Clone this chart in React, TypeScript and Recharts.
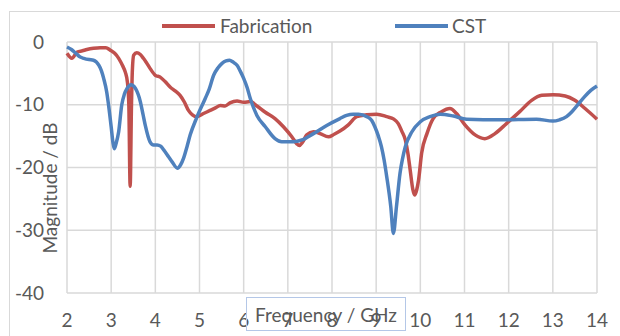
import { CartesianGrid, Line, LineChart, XAxis, YAxis } from "recharts";

const FAB_FREQ = [
  2.0, 2.11, 2.23, 2.35, 2.45, 2.6, 2.75, 2.88, 2.98, 3.08, 3.17, 3.26, 3.32, 3.37, 3.4, 3.43, 3.46, 3.48,
  3.51, 3.58, 3.66, 3.73, 3.8, 3.88, 4.0, 4.11, 4.22, 4.34, 4.45, 4.56, 4.66, 4.75, 4.84, 4.94, 5.09, 5.24,
  5.36, 5.47, 5.58, 5.69, 5.85, 6.0, 6.15, 6.3, 6.49, 6.71, 6.9, 7.09, 7.2, 7.26, 7.33, 7.43, 7.58, 7.73,
  7.92, 8.05, 8.18, 8.37, 8.56, 8.79, 9.01, 9.24, 9.4, 9.5, 9.58, 9.66, 9.72, 9.77, 9.83, 9.87, 9.92, 9.96,
  10.03, 10.15, 10.29, 10.48, 10.67, 10.82, 11.01, 11.24, 11.46, 11.69, 11.95, 12.25, 12.52, 12.75, 13.01,
  13.28, 13.5, 13.73, 14.0,
];
const FAB_MAG = [
  -1.8, -2.6, -1.6, -1.4, -1.2, -1.0, -0.9, -0.9, -1.3, -1.8, -2.6, -3.8, -4.8, -6.5, -10, -23, -10, -4.5,
  -2.1, -1.7, -2.0, -2.6, -3.3, -4.2, -5.3, -5.6, -6.3, -7.2, -7.8, -8.5, -9.6, -10.9, -11.6, -11.9, -11.4, -10.9,
  -10.5, -10.1, -10.2, -9.7, -9.4, -9.6, -9.5, -10.2, -11.2, -12.2, -13.5, -15.1, -16.2, -16.5, -16.0, -14.8, -14.3, -14.6,
  -15.1, -14.7, -14.2, -13.2, -11.9, -11.6, -11.5, -11.9, -12.3, -13.0, -14.2, -15.6, -17.8, -20.4, -23.5, -24.4, -23.5, -22,
  -17.7, -14.6, -12.2, -11.1, -10.6, -11.4, -13.2, -14.8, -15.4, -14.6, -13.0, -11.1, -9.3, -8.5, -8.4,
  -8.6, -9.3, -10.6, -12.3,
];

// Simulated S11 (CST)
const CST_FREQ = [
  2.0, 2.1, 2.2, 2.3, 2.38, 2.5, 2.6, 2.72, 2.78, 2.83, 2.9, 2.94, 3.0, 3.04, 3.07, 3.11, 3.17, 3.24, 3.3,
  3.36, 3.45, 3.55, 3.66, 3.72, 3.77, 3.88, 3.96, 4.04, 4.12, 4.19, 4.3, 4.38, 4.5, 4.57, 4.64, 4.72, 4.79,
  4.94, 5.13, 5.22, 5.32, 5.42, 5.51, 5.6, 5.68, 5.76, 5.85, 5.92, 6.0, 6.08, 6.15, 6.3, 6.49, 6.71, 6.86,
  7.13, 7.32, 7.58, 7.88, 8.18, 8.33, 8.48, 8.6, 8.79, 8.9, 8.97, 9.05, 9.12, 9.18, 9.24, 9.33, 9.39, 9.46,
  9.54, 9.6, 9.66, 9.81, 10.0, 10.22, 10.45, 10.75, 11.05, 11.8, 12.63, 13.0, 13.15, 13.31, 13.42, 13.53,
  13.72, 13.86, 14.0,
];
const CST_MAG = [
  -0.8, -1.2, -1.8, -2.4, -2.6, -2.8, -2.9, -3.7, -4.6, -5.8, -8, -10, -13.5, -16, -17, -16.2, -14.3, -10, -8.3,
  -7.4, -6.8, -7.4, -9.5, -11.5, -13.2, -15.9, -16.4, -16.4, -16.6, -17.2, -18.3, -19.1, -20.1, -19.6, -18.5, -16.6, -14.8,
  -12.0, -9.0, -7.5, -5.3, -4.1, -3.4, -3.0, -2.9, -3.2, -3.7, -4.6, -5.8, -7.3, -9.0, -11.7, -13.5, -15.4, -15.9,
  -15.9, -15.6, -14.6, -13.3, -12.2, -11.7, -11.5, -11.5, -11.9, -12.5, -13.5, -15.0, -16.7, -18.8, -21.5, -26.2, -30.5, -26.2,
  -20.9, -18.5, -16.7, -14.3, -12.7, -11.9, -11.5, -11.8, -12.3, -12.4, -12.3, -12.6, -12.4, -11.9, -11.2, -10.3,
  -8.7, -7.7, -7.0,
];

const X_TICKS = [2, 3, 4, 5, 6, 7, 8, 9, 10, 11, 12, 13, 14];
const Y_TICKS = [-40, -30, -20, -10, 0];
// minor tick marks along the top axis, six per GHz
const MINOR_TICKS = X_TICKS.slice(0, -1)
  .flatMap((v) => [0, 1, 2, 3, 4, 5].map((k) => v + k / 6))
  .concat([14]);

const fabData = FAB_FREQ.map((f, i) => ({ f, v: FAB_MAG[i] }));
const cstData = CST_FREQ.map((f, i) => ({ f, v: CST_MAG[i] }));

const RED = "#C0504D";
const BLUE = "#4F81BD";
const TEXT = "#595959";
const FONT = "Lato, 'Open Sans', sans-serif";

export default function App() {
  return (
    <div
      style={{
        position: "absolute",
        left: 0,
        top: 0,
        width: 620,
        height: 336,
        overflow: "hidden",
        background: "#fff",
        fontFamily: FONT,
      }}
    >
      {/* chart area border */}
      <div
        style={{
          position: "absolute",
          left: 9,
          top: 11,
          width: 640,
          height: 360,
          border: "1px solid #d9d9d9",
        }}
      />

      <LineChart width={620} height={336} margin={{ top: 42, right: 23, left: 0, bottom: 0 }}>
        <CartesianGrid xAxisId="main" stroke="#d9d9d9" strokeWidth={1.5} />
        <XAxis
          xAxisId="main"
          type="number"
          dataKey="f"
          domain={[2, 14]}
          ticks={X_TICKS}
          interval={0}
          height={43}
          axisLine={false}
          tickLine={false}
          tickSize={0}
          tickMargin={21}
          tick={{ fill: TEXT, fontSize: 19, fontFamily: FONT }}
        />
        <XAxis
          xAxisId="minor"
          orientation="top"
          type="number"
          dataKey="f"
          domain={[2, 14]}
          ticks={MINOR_TICKS}
          interval={0}
          height={0}
          mirror
          tick={false}
          tickSize={5}
          axisLine={{ stroke: "#bfbfbf", strokeWidth: 1.5 }}
          tickLine={{ stroke: "#bfbfbf" }}
        />
        <YAxis
          type="number"
          domain={[-40, 0]}
          ticks={Y_TICKS}
          interval={0}
          width={67}
          axisLine={false}
          tickLine={false}
          tickSize={0}
          tickMargin={23}
          tick={{ fill: TEXT, fontSize: 19, fontFamily: FONT }}
        />
        <Line
          xAxisId="main"
          data={fabData}
          dataKey="v"
          name="Fabrication"
          type="monotone"
          stroke={RED}
          strokeWidth={3.5}
          dot={false}
          isAnimationActive={false}
        />
        <Line
          xAxisId="main"
          data={cstData}
          dataKey="v"
          name="CST"
          type="monotone"
          stroke={BLUE}
          strokeWidth={3.5}
          dot={false}
          isAnimationActive={false}
        />
      </LineChart>

      {/* legend */}
      <div style={{ position: "absolute", left: 162, top: 23.5, width: 53, height: 4, background: RED }} />
      <div style={{ position: "absolute", left: 220, top: 15.5, fontSize: 19, lineHeight: "19px", color: TEXT }}>
        Fabrication
      </div>
      <div style={{ position: "absolute", left: 395, top: 23.5, width: 53, height: 4, background: BLUE }} />
      <div style={{ position: "absolute", left: 452, top: 15.5, fontSize: 19, lineHeight: "19px", color: TEXT }}>
        CST
      </div>

      {/* axis titles */}
      <div
        style={{
          position: "absolute",
          left: 49,
          top: 188,
          transform: "translate(-50%, -50%) rotate(-90deg)",
          whiteSpace: "nowrap",
          fontSize: 19,
          color: TEXT,
        }}
      >
        Magnitude / dB
      </div>
      <div
        style={{
          position: "absolute",
          left: 246,
          top: 297,
          width: 158,
          height: 32,
          border: "1px solid #b4c7e7",
          display: "flex",
          alignItems: "center",
          justifyContent: "center",
          fontSize: 19,
          color: TEXT,
          whiteSpace: "nowrap",
        }}
      >
        Frequency / GHz
      </div>
    </div>
  );
}
